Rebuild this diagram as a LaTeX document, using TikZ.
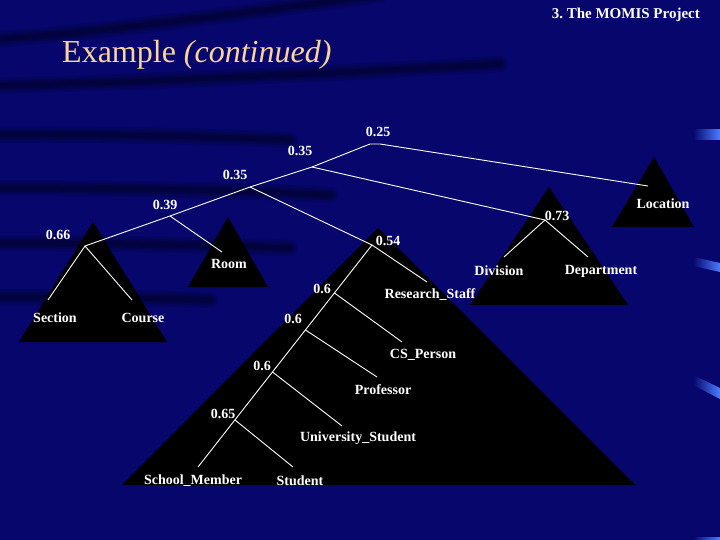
\documentclass[tikz,border=0pt]{standalone}
\usepackage{fontspec}
\setmainfont{Liberation Serif}
\definecolor{bg}{RGB}{6,6,108}
\definecolor{accent}{RGB}{75,125,255}
\definecolor{titlecol}{RGB}{250,212,155}
\tikzset{
  lbl/.style={text=white, font=\bfseries\fontsize{14}{16}\selectfont, inner sep=0pt},
  branch/.style={draw=white, line width=0.9pt},
  tri/.style={fill=black},
  bandw/.style={draw=black, opacity=0.13, line width=#1, line cap=round},
}
\begin{document}
\begin{tikzpicture}[x=1pt, y=-1pt]
\useasboundingbox (0,0) rectangle (720,540);
% background
\fill[bg] (0,0) rectangle (720,540);
\foreach \w in {16pt, 11pt, 7pt, 4pt}{
  \draw[bandw=\w] (-10,40) .. controls (100,32) and (220,16) .. (380,-5);
  \draw[bandw=\w] (-10,86) .. controls (150,82) and (320,74) .. (500,64);
  \draw[bandw=\w] (-10,135) .. controls (100,134) and (200,136) .. (290,140);
  \draw[bandw=\w] (-10,188) .. controls (100,188) and (250,190) .. (330,195);
  \draw[bandw=\w] (-10,243) .. controls (100,243) and (200,245) .. (290,248);
  \draw[bandw=\w] (-10,297) .. controls (80,297) and (150,298) .. (210,300);
}
% right-edge accents
\shade[left color=bg, right color=accent] (693,130) rectangle (720,140);
\shade[left color=bg, right color=accent] (693,257) -- (720,263) -- (720,272) -- (693,266) -- cycle;
\shade[left color=bg, right color=accent] (693,375) -- (720,388) -- (720,399) -- (693,385) -- cycle;
\shade[left color=bg, right color=accent] (693,537) rectangle (720,540);
% header and title
\node[anchor=base east, text=white, font=\bfseries\fontsize{15}{17}\selectfont, inner sep=0pt] (hdr) at (700,19) {3.\ The MOMIS Project};
\node[anchor=base west, text=titlecol, font=\fontsize{32}{36}\selectfont, inner sep=0pt] (title) at (62,63) {Example \textit{(continued)}};
% triangles
\fill[tri] (93,222) -- (19,342) -- (167,342) -- cycle;
\fill[tri] (228,217) -- (188,287) -- (268,287) -- cycle;
\fill[tri] (378,228) -- (122,485) -- (635,485) -- cycle;
\fill[tri] (549,187) -- (470,305) -- (628,305) -- cycle;
\fill[tri] (654,157) -- (612,227) -- (694,227) -- cycle;
% junctions and branch ends
\coordinate (t25a) at (370,144);
\coordinate (t25b) at (380,144);
\coordinate (locE) at (648,186);
\coordinate (n35u) at (312,167);
\coordinate (n73) at (545,220);
\coordinate (n35l) at (250,187);
\coordinate (n39) at (170,216);
\coordinate (n66) at (85,246);
\coordinate (secE) at (48,300);
\coordinate (couE) at (132,300);
\coordinate (roomE) at (222,252);
\coordinate (n54) at (372,245);
\coordinate (rsE) at (427,282);
\coordinate (divE) at (504,257);
\coordinate (depE) at (588,257);
\coordinate (smE) at (198,467);
\coordinate (n6a) at (334.5,293);
\coordinate (n6b) at (305.5,330);
\coordinate (n6c) at (272.5,372);
\coordinate (n65) at (235,420);
\coordinate (csE) at (402,342);
\coordinate (profE) at (377,377);
\coordinate (usE) at (342,426);
\coordinate (stE) at (293,467);
% branches
\draw[branch] (n66) -- (n39) -- (n35l) -- (n35u) -- (t25a) -- (t25b) -- (locE);
\draw[branch] (n35u) -- (n73);
\draw[branch] (n35l) -- (n54);
\draw[branch] (n39) -- (roomE);
\draw[branch] (secE) -- (n66) -- (couE);
\draw[branch] (divE) -- (n73) -- (depE);
\draw[branch] (n54) -- (rsE);
\draw[branch] (n54) -- (smE);
\draw[branch] (n6a) -- (csE);
\draw[branch] (n6b) -- (profE);
\draw[branch] (n6c) -- (usE);
\draw[branch] (n65) -- (stE);
% labels
\node[lbl] (l25) at (378,132) {0.25};
\node[lbl] (l35u) at (300,151) {0.35};
\node[lbl] (l35l) at (235,175) {0.35};
\node[lbl] (l39) at (165,205) {0.39};
\node[lbl] (l66) at (58,235) {0.66};
\node[lbl] (l73) at (557,216) {0.73};
\node[lbl] (lloc) at (663,204) {Location};
\node[lbl] (l54) at (388,241) {0.54};
\node[lbl] (lroom) at (229,264) {Room};
\node[lbl] (ldiv) at (499,271) {Division};
\node[lbl] (ldep) at (601,271) {Department};
\node[lbl] (l6a) at (322,289) {0.6};
\node[lbl] (lrs) at (430,295) {Research\_Staff};
\node[lbl] (lsec) at (55,318) {Section};
\node[lbl] (lcou) at (143,318) {Course};
\node[lbl] (l6b) at (293,319) {0.6};
\node[lbl] (lcs) at (423,355) {CS\_Person};
\node[lbl] (l6c) at (262,366) {0.6};
\node[lbl] (lprof) at (383,390) {Professor};
\node[lbl] (l65) at (223,414) {0.65};
\node[lbl] (lus) at (358,438) {University\_Student};
\node[lbl] (lsm) at (193,481) {School\_Member};
\node[lbl] (lst) at (300,481) {Student};
\end{tikzpicture}
\end{document}
